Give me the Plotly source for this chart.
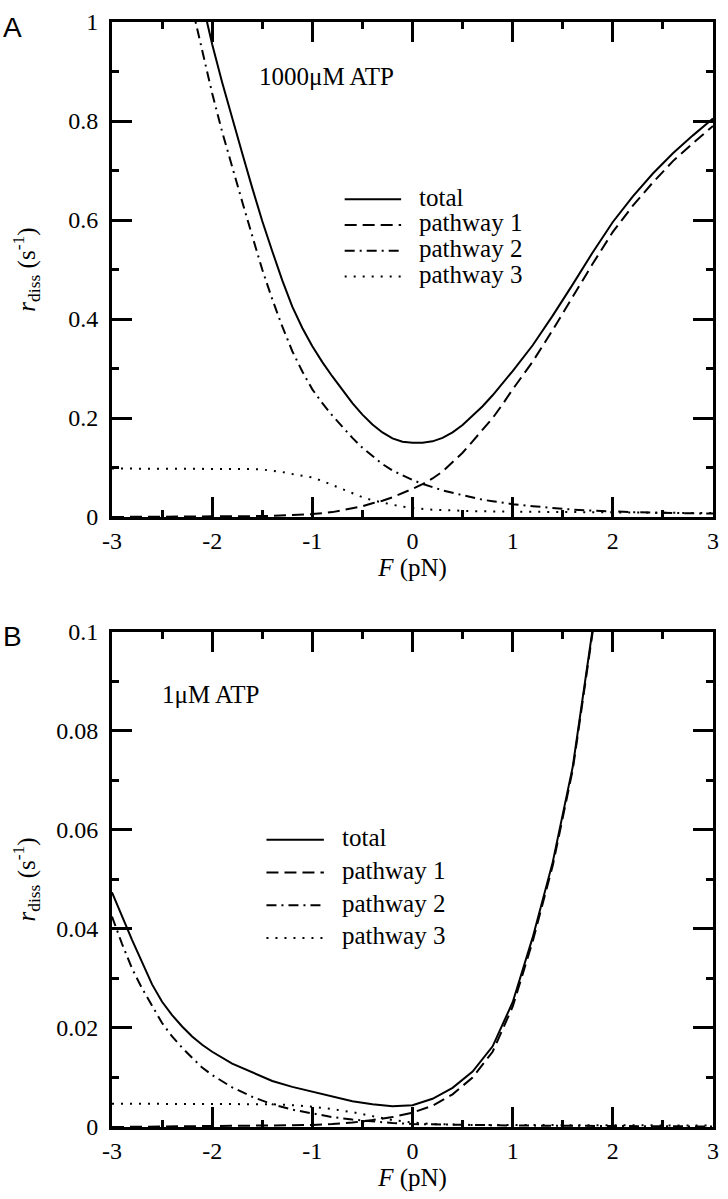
import plotly.graph_objects as go

# ---------------- data ----------------
# Panel A : 1000 uM ATP
F_A_total = [-2.2, -2.1, -2.0, -1.9, -1.8, -1.7, -1.6, -1.5, -1.4, -1.3, -1.2, -1.1, -1.0,
             -0.9, -0.8, -0.7, -0.6, -0.5, -0.4, -0.3, -0.2, -0.1, 0.0, 0.1, 0.2, 0.3, 0.4,
             0.5, 0.6, 0.7, 0.8, 0.9, 1.0, 1.2, 1.4, 1.6, 1.8, 2.0, 2.2, 2.4, 2.6, 2.8, 3.0]
A_total = [1.13, 1.04, 0.955, 0.878, 0.805, 0.735, 0.665, 0.598, 0.537, 0.478, 0.425, 0.382, 0.345,
           0.313, 0.284, 0.256, 0.23, 0.207, 0.187, 0.171, 0.159, 0.152, 0.15, 0.15, 0.153, 0.16, 0.171,
           0.186, 0.204, 0.224, 0.246, 0.27, 0.295, 0.347, 0.407, 0.47, 0.535, 0.596, 0.648, 0.694,
           0.735, 0.771, 0.805]

F_A_p1 = [-3.0, -2.5, -2.0, -1.5, -1.2, -1.0, -0.8, -0.6, -0.5, -0.4, -0.3, -0.2, -0.1, 0.0, 0.1,
          0.2, 0.3, 0.4, 0.5, 0.6, 0.7, 0.8, 0.9, 1.0, 1.2, 1.4, 1.6, 1.8, 2.0, 2.2, 2.4, 2.6, 2.8, 3.0]
A_p1 = [0.0002, 0.0004, 0.0008, 0.002, 0.004, 0.006, 0.01, 0.018, 0.022, 0.028, 0.033, 0.04, 0.048,
        0.057, 0.0665, 0.078, 0.092, 0.11, 0.13, 0.153, 0.177, 0.2, 0.228, 0.258, 0.314, 0.378, 0.445,
        0.512, 0.576, 0.629, 0.676, 0.719, 0.755, 0.79]

F_A_p2 = [-2.2, -2.1, -2.0, -1.9, -1.8, -1.7, -1.6, -1.5, -1.4, -1.3, -1.2, -1.1, -1.0, -0.9, -0.8,
          -0.7, -0.6, -0.5, -0.4, -0.3, -0.2, -0.1, 0.0, 0.1, 0.2, 0.3, 0.4, 0.5, 0.6, 0.7, 0.8, 0.9,
          1.0, 1.2, 1.4, 1.6, 1.8, 2.0, 2.2, 2.4, 2.6, 2.8, 3.0]
A_p2 = [1.03, 0.94, 0.856, 0.778, 0.706, 0.637, 0.568, 0.50, 0.44, 0.385, 0.335, 0.294, 0.258, 0.23,
        0.205, 0.182, 0.16, 0.14, 0.123, 0.107, 0.094, 0.084, 0.075, 0.067, 0.06, 0.054, 0.049, 0.044,
        0.039, 0.035, 0.032, 0.029, 0.026, 0.022, 0.018, 0.015, 0.013, 0.011, 0.01, 0.009, 0.008,
        0.0075, 0.007]

F_A_p3 = [-3.0, -2.5, -2.0, -1.8, -1.6, -1.5, -1.4, -1.3, -1.2, -1.1, -1.0, -0.9, -0.8, -0.7, -0.6,
          -0.5, -0.4, -0.3, -0.2, -0.1, 0.0, 0.2, 0.4, 0.6, 1.0, 1.5, 2.0, 2.5, 3.0]
A_p3 = [0.098, 0.098, 0.098, 0.098, 0.097, 0.096, 0.094, 0.091, 0.087, 0.084, 0.08, 0.073, 0.065,
        0.056, 0.048, 0.04, 0.034, 0.029, 0.025, 0.021, 0.018, 0.015, 0.013, 0.012, 0.011, 0.01,
        0.009, 0.008, 0.008]

# Panel B : 1 uM ATP
F_B_total = [-3.0, -2.9, -2.8, -2.7, -2.6, -2.5, -2.4, -2.3, -2.2, -2.1, -2.0, -1.8, -1.6, -1.4,
             -1.2, -1.0, -0.8, -0.6, -0.4, -0.2, 0.0, 0.2, 0.4, 0.6, 0.8, 1.0, 1.2, 1.4, 1.6, 1.8, 2.0]
B_total = [0.0474, 0.0425, 0.0378, 0.0333, 0.0288, 0.0253, 0.0226, 0.0203, 0.0183, 0.0166, 0.0152,
           0.0128, 0.011, 0.0093, 0.0081, 0.0071, 0.0061, 0.0052, 0.0046, 0.0042, 0.0044, 0.0057,
           0.0079, 0.0112, 0.0163, 0.0252, 0.0383, 0.0535, 0.0728, 0.1008, 0.14]

F_B_p1 = [-3.0, -2.5, -2.0, -1.5, -1.0, -0.8, -0.6, -0.4, -0.2, 0.0, 0.2, 0.4, 0.6, 0.8, 1.0, 1.2,
          1.4, 1.6, 1.8, 2.0]
B_p1 = [0.0, 0.0001, 0.0001, 0.0002, 0.0004, 0.0006, 0.0009, 0.0014, 0.002, 0.0029, 0.0043, 0.0066,
        0.0100, 0.0152, 0.0243, 0.0375, 0.0528, 0.0722, 0.1002, 0.139]

F_B_p2 = [-3.0, -2.9, -2.8, -2.7, -2.6, -2.5, -2.4, -2.3, -2.2, -2.1, -2.0, -1.8, -1.6, -1.4, -1.2,
          -1.0, -0.8, -0.6, -0.4, -0.2, 0.0, 0.5, 1.0, 2.0, 3.0]
B_p2 = [0.0425, 0.037, 0.032, 0.028, 0.0245, 0.021, 0.0183, 0.016, 0.014, 0.012, 0.0105, 0.008,
        0.0061, 0.0046, 0.0035, 0.0027, 0.002, 0.0015, 0.0011, 0.0008, 0.0006, 0.0004, 0.0003,
        0.0002, 0.0001]

F_B_p3 = [-3.0, -2.0, -1.6, -1.4, -1.2, -1.0, -0.8, -0.6, -0.4, -0.2, 0.0, 0.2, 0.4, 0.6, 1.0, 2.0, 3.0]
B_p3 = [0.0047, 0.0047, 0.0047, 0.0046, 0.0044, 0.0041, 0.0036, 0.003, 0.0022, 0.0014, 0.0009,
        0.0006, 0.0005, 0.0004, 0.0004, 0.0003, 0.0003]

SERIES_NAMES = ["total", "pathway 1", "pathway 2", "pathway 3"]
PANEL_LABELS = ["A", "B"]
CONDITIONS = ["1000\u03bcM ATP", "1\u03bcM ATP"]
X_TITLE = "<i>F</i> (pN)"
Y_TITLE = "<i>r</i><sub>diss</sub> (s<sup>-1</sup>)"

X_TICKS = [-3, -2, -1, 0, 1, 2, 3]
X_TICKTEXT = ["-3", "-2", "-1", "0", "1", "2", "3"]
X_MINOR = [-2.5, -1.5, -0.5, 0.5, 1.5, 2.5]
YA_TICKS = [0, 0.2, 0.4, 0.6, 0.8, 1.0]
YA_TICKTEXT = ["0", "0.2", "0.4", "0.6", "0.8", "1"]
YA_MINOR = [0.1, 0.3, 0.5, 0.7, 0.9]
YB_TICKS = [0, 0.02, 0.04, 0.06, 0.08, 0.1]
YB_TICKTEXT = ["0", "0.02", "0.04", "0.06", "0.08", "0.1"]
YB_MINOR = [0.01, 0.03, 0.05, 0.07, 0.09]

# ---------------- styling / layout ----------------
W, H = 728, 1199
ML, MR, MT, MB = 112, 9, 11, 72
PW, PH = W - ML - MR, H - MT - MB
A_TOP, A_BOT, B_TOP, B_BOT = 11, 511, 627, 1127

def px_x(px):
    return (px - ML) / PW

def px_y(py):
    return (H - MB - py) / PH

SERIF = "Liberation Serif, Times New Roman, serif"
DASHES = ["solid", "12px,6px", "10px,5px,2px,5px", "2px,7px"]
LW = 2

fig = go.Figure()
panelA = [(F_A_total, A_total), (F_A_p1, A_p1), (F_A_p2, A_p2), (F_A_p3, A_p3)]
panelB = [(F_B_total, B_total), (F_B_p1, B_p1), (F_B_p2, B_p2), (F_B_p3, B_p3)]
for (fx, fy), name, dash in zip(panelA, SERIES_NAMES, DASHES):
    fig.add_trace(go.Scatter(x=fx, y=fy, mode="lines", name=name, showlegend=False,
                             line=dict(color="black", width=LW, dash=dash),
                             xaxis="x", yaxis="y"))
for (fx, fy), name, dash in zip(panelB, SERIES_NAMES, DASHES):
    fig.add_trace(go.Scatter(x=fx, y=fy, mode="lines", name=name, showlegend=False,
                             line=dict(color="black", width=LW, dash=dash),
                             xaxis="x2", yaxis="y2"))

def axis_common():
    return dict(ticks="inside", ticklen=20, tickwidth=2.5, tickcolor="black",
                showline=True, linewidth=3, linecolor="black", mirror="allticks",
                showgrid=False, zeroline=False,
                tickfont=dict(family=SERIF, size=24, color="black"))

def minor(vals):
    return dict(tickvals=vals, ticks="inside", ticklen=7, tickwidth=2.5,
                tickcolor="black", showgrid=False)

TITLE_FONT = dict(family=SERIF, size=25, color="black")

xa = axis_common()
xa.update(range=[-3, 3], tickvals=X_TICKS, ticktext=X_TICKTEXT, minor=minor(X_MINOR),
          title=dict(text=X_TITLE, font=TITLE_FONT, standoff=6))
ya = axis_common()
ya.update(range=[0, 1], tickvals=YA_TICKS, ticktext=YA_TICKTEXT, minor=minor(YA_MINOR),
          ticklabelstandoff=6, title=dict(text=Y_TITLE, font=TITLE_FONT, standoff=26))
yb = axis_common()
yb.update(range=[0, 0.1], tickvals=YB_TICKS, ticktext=YB_TICKTEXT, minor=minor(YB_MINOR),
          ticklabelstandoff=6, title=dict(text=Y_TITLE, font=TITLE_FONT, standoff=14))

fig.update_layout(
    width=W, height=H,
    margin=dict(l=ML, r=MR, t=MT, b=MB),
    paper_bgcolor="white", plot_bgcolor="white",
    font=dict(family=SERIF, size=24, color="black"),
    showlegend=False,
    xaxis=dict(xa, domain=[0, 1], anchor="y"),
    yaxis=dict(ya, domain=[px_y(A_BOT), 1], anchor="x"),
    xaxis2=dict(xa, domain=[0, 1], anchor="y2"),
    yaxis2=dict(yb, domain=[0, px_y(B_TOP)], anchor="x2"),
)

ann = []
shapes = []
# panel letters
for lab, yc in zip(PANEL_LABELS, [17, 632]):
    ann.append(dict(text=lab, x=px_x(0), y=px_y(yc), xref="paper", yref="paper",
                    xanchor="left", yanchor="middle", showarrow=False,
                    font=dict(family="Liberation Sans", size=28, color="black")))
# condition labels
for txt, xl, yc in zip(CONDITIONS, [258, 160], [66, 690]):
    ann.append(dict(text=txt, x=px_x(xl), y=px_y(yc), xref="paper", yref="paper",
                    xanchor="left", yanchor="middle", showarrow=False,
                    font=dict(family=SERIF, size=25, color="black")))
# legends (manual, to match the reference spacing)
legA = dict(x0=347, x1=404, xt=420, ys=[190, 216, 242, 268])
legB = dict(x0=268, x1=326, xt=342, ys=[837, 870, 903, 936])
for leg in [legA, legB]:
    for name, dash, yy in zip(SERIES_NAMES, DASHES, leg["ys"]):
        shapes.append(dict(type="line", xref="paper", yref="paper",
                           x0=px_x(leg["x0"]), x1=px_x(leg["x1"]), y0=px_y(yy), y1=px_y(yy),
                           line=dict(color="black", width=LW, dash=dash)))
        ann.append(dict(text=name, x=px_x(leg["xt"]), y=px_y(yy - 2), xref="paper", yref="paper",
                        xanchor="left", yanchor="middle", showarrow=False,
                        font=dict(family=SERIF, size=25, color="black")))

fig.update_layout(annotations=ann, shapes=shapes)
fig.write_html("out.html",
               config={"displayModeBar": False},
               post_script="document.body.style.margin='0px';"
                           "document.body.style.overflow='hidden';")
